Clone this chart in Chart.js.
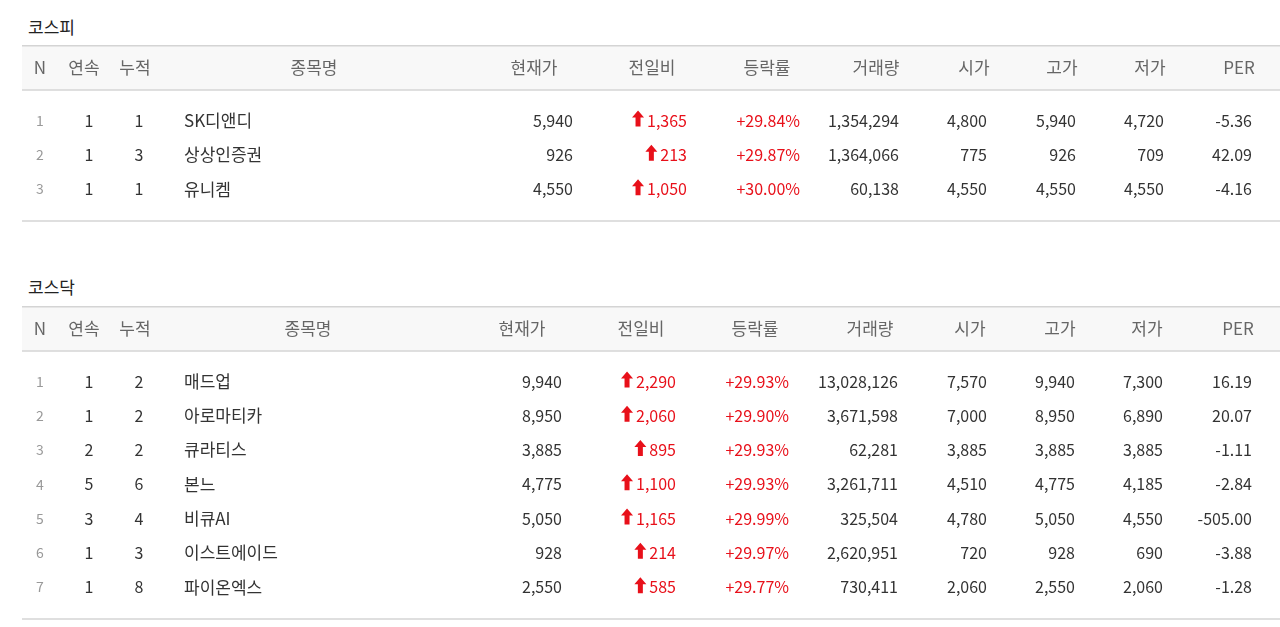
<!DOCTYPE html>
<html><head><meta charset="utf-8">
<script src="https://cdn.jsdelivr.net/npm/chart.js@4"></script>
<style>
body{margin:0;background:#fff;width:1280px;height:627px;overflow:hidden;font-family:"Noto Sans CJK KR","Noto Sans",sans-serif}
.t{position:absolute;left:28px;font-size:17px;color:#222}
.c{position:absolute;left:0;width:1280px}
</style></head><body>
<div class="t" style="top:14px">코스피</div>
<div class="t" style="top:274px">코스닥</div>
<div class="c" style="top:45px;height:177px"><canvas id="c1"></canvas></div>
<div class="c" style="top:306px;height:314px"><canvas id="c2"></canvas></div>
<script>
const headers=['N','연속','누적','종목명','현재가','전일비','등락률','거래량','시가','고가','저가','PER'];
// KOSPI
const kospiNames=['SK디앤디','상상인증권','유니켐'];
const kospiStreak=[1,1,1];
const kospiCum=[1,3,1];
const kospiPrice=['5,940','926','4,550'];
const kospiChange=['1,365','213','1,050'];
const kospiRate=['+29.84%','+29.87%','+30.00%'];
const kospiVolume=['1,354,294','1,364,066','60,138'];
const kospiOpen=['4,800','775','4,550'];
const kospiHigh=['5,940','926','4,550'];
const kospiLow=['4,720','709','4,550'];
const kospiPER=['-5.36','42.09','-4.16'];
// KOSDAQ
const kosdaqNames=['매드업','아로마티카','큐라티스','본느','비큐AI','이스트에이드','파이온엑스'];
const kosdaqStreak=[1,1,2,5,3,1,1];
const kosdaqCum=[2,2,2,6,4,3,8];
const kosdaqPrice=['9,940','8,950','3,885','4,775','5,050','928','2,550'];
const kosdaqChange=['2,290','2,060','895','1,100','1,165','214','585'];
const kosdaqRate=['+29.93%','+29.90%','+29.93%','+29.93%','+29.99%','+29.97%','+29.77%'];
const kosdaqVolume=['13,028,126','3,671,598','62,281','3,261,711','325,504','2,620,951','730,411'];
const kosdaqOpen=['7,570','7,000','3,885','4,510','4,780','720','2,060'];
const kosdaqHigh=['9,940','8,950','3,885','4,775','5,050','928','2,550'];
const kosdaqLow=['7,300','6,890','3,885','4,185','4,550','690','2,060'];
const kosdaqPER=['16.19','20.07','-1.11','-2.84','-505.00','-3.88','-1.28'];

const layout1={head:[40,84,135,314,534,652,767,876,974,1062,1150,1239],
 val:[40,89,139,184,573,687,800,899,987,1076,1164,1252]};
const layout2={head:[40,84,135,308,522,641,755,870,970,1060,1147,1238],
 val:[40,89,139,184,562,676,789,898,987,1075,1163,1252]};

function build(names,st,cu,pr,ch,ra,vo,op,hi,lo,pe){
  return names.map((n,i)=>[String(i+1),String(st[i]),String(cu[i]),n,pr[i],ch[i],ra[i],vo[i],op[i],hi[i],lo[i],pe[i]]);
}
const tablePlugin={id:'tbl',afterDraw(chart){
  const {ctx,scales:{x,y}}=chart, o=chart.options.plugins.tbl, rows=o.rows, L=o.layout;
  const F='"Noto Sans CJK KR","Noto Sans",sans-serif';
  const x0=x.getPixelForValue(22), x1=x.getPixelForValue(1280);
  const yt=y.getPixelForValue(-2.26), yh=y.getPixelForValue(-0.95), yb=y.getPixelForValue(rows.length-1+0.9);
  ctx.save();
  ctx.fillStyle='#f8f8f8';ctx.fillRect(x0,yt,x1-x0,yh-yt);
  ctx.strokeStyle='#d4d4d4';ctx.lineWidth=1.5;
  [yt+0.75,yh,yb-1].forEach(v=>{ctx.beginPath();ctx.moveTo(x0,v);ctx.lineTo(x1,v);ctx.stroke();});
  ctx.textBaseline='middle';
  const hy=y.getPixelForValue(-1.6);
  ctx.font='17px '+F;ctx.fillStyle='#666';ctx.textAlign='center';
  headers.forEach((h,j)=>ctx.fillText(h,x.getPixelForValue(L.head[j]),hy));
  rows.forEach((r,i)=>{
    const py=y.getPixelForValue(i)-2;
    r.forEach((v,j)=>{
      const px=x.getPixelForValue(L.val[j]);
      if(j===0){ctx.font='14px '+F;ctx.fillStyle='#999';ctx.textAlign='center';}
      else if(j<3){ctx.font='16px '+F;ctx.fillStyle='#333';ctx.textAlign='center';}
      else if(j===3){ctx.font='17px '+F;ctx.fillStyle='#333';ctx.textAlign='left';}
      else {ctx.font='16px '+F;ctx.textAlign='right';ctx.fillStyle=(j===5||j===6)?'#e8101a':'#333';}
      ctx.fillText(v,px,py);
      if(j===5){
        const w=ctx.measureText(v).width, ax=px-w-9;
        ctx.fillStyle='#e8101a';ctx.beginPath();
        ctx.moveTo(ax,py-10);ctx.lineTo(ax+6,py-3);ctx.lineTo(ax+2.5,py-3);ctx.lineTo(ax+2.5,py+6);
        ctx.lineTo(ax-2.5,py+6);ctx.lineTo(ax-2.5,py-3);ctx.lineTo(ax-6,py-3);ctx.closePath();ctx.fill();
      }
    });
  });
  ctx.restore();
}};
function make(id,rows,layout){
  new Chart(document.getElementById(id),{type:'scatter',
    data:{datasets:[{data:rows.map((r,i)=>({x:22,y:i})),pointRadius:0}]},
    options:{responsive:true,maintainAspectRatio:false,animation:false,
      layout:{padding:0},
      plugins:{legend:{display:false},tooltip:{enabled:false},tbl:{rows,layout}},
      scales:{x:{type:'linear',min:0,max:1280,display:false},
        y:{type:'linear',min:-2.26,max:rows.length-1+0.9,reverse:true,display:false}}},
    plugins:[tablePlugin]});
}
make('c1',build(kospiNames,kospiStreak,kospiCum,kospiPrice,kospiChange,kospiRate,kospiVolume,kospiOpen,kospiHigh,kospiLow,kospiPER),layout1);
make('c2',build(kosdaqNames,kosdaqStreak,kosdaqCum,kosdaqPrice,kosdaqChange,kosdaqRate,kosdaqVolume,kosdaqOpen,kosdaqHigh,kosdaqLow,kosdaqPER),layout2);
</script></body></html>
